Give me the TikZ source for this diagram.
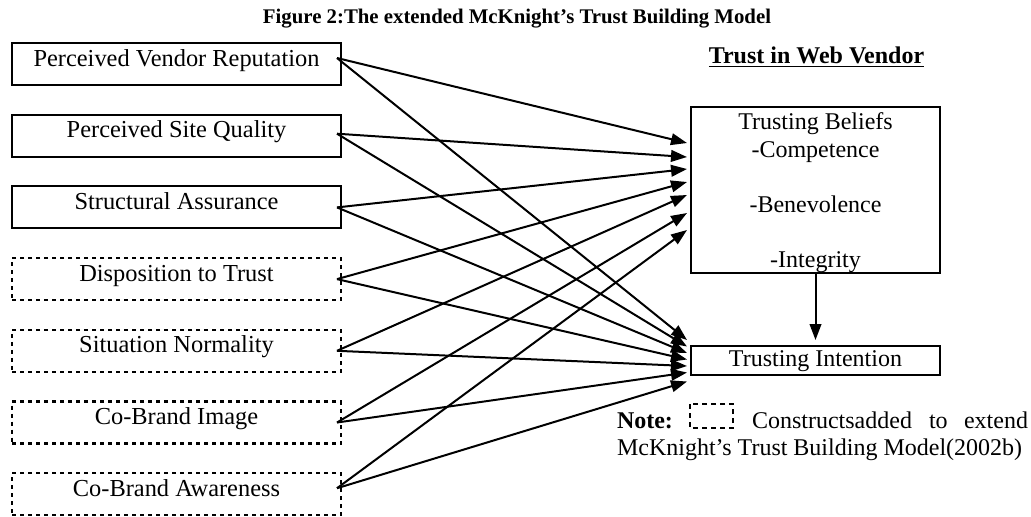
\documentclass[tikz,border=0pt]{standalone}
\usepackage{fontspec}
\setmainfont{Liberation Serif}
\usetikzlibrary{arrows.meta}
\begin{document}
\begin{tikzpicture}[x=0.5pt,y=-0.5pt,
  lbox/.style={draw, line width=1pt, anchor=north west, minimum width=164.5pt,
    inner sep=0pt, outer sep=0pt, text height=11.5pt, text depth=9.5pt,
    font=\fontsize{12.2}{13.75}\selectfont},
  dbox/.style={lbox, line width=1.1pt, dash pattern=on 2pt off 2pt},
  rbox/.style={draw, line width=1pt, anchor=north, minimum width=124.5pt,
    inner sep=0pt, outer sep=0pt, font=\fontsize{12}{13.75}\selectfont},
  arr/.style={line width=1pt, -{Triangle[length=8pt,width=5.8pt]}},
  txt/.style={inner sep=0pt, outer sep=0pt, font=\fontsize{12}{13.75}\selectfont}]
\useasboundingbox (0,0) rectangle (1031,516);

% title
\node[txt, font=\bfseries\fontsize{10.4}{12}\selectfont, anchor=base] (title) at (517,23.5)
  {Figure 2:The extended McKnight's Trust Building Model};
\node[txt, anchor=base] (tw) at (816.5,63) {\underline{\textbf{Trust in Web Vendor}}};

% left boxes
\node[lbox] (b1) at (12,43)    {Perceived Vendor Reputation};
\node[lbox] (b2) at (12,114.7) {Perceived Site Quality};
\node[lbox] (b3) at (12,186.4) {Structural Assurance};
\node[dbox] (b4) at (12,258.1) {Disposition to Trust};
\node[dbox] (b5) at (12,329.8) {Situation Normality};
\node[dbox] (b6) at (12,401.5) {Co-Brand Image};
\node[dbox] (b7) at (12,473.2) {Co-Brand Awareness};

% right boxes
\node[rbox, align=center, text height=80pt, text depth=3pt] (TB) at (815.5,107)
  {Trusting Beliefs\\-Competence\\[13.75pt]-Benevolence\\[13.75pt]-Integrity};
\node[rbox, text height=10.4pt, text depth=4.1pt] (TI) at (815.5,346) {Trusting Intention};

% start points
\coordinate (s1) at ([xshift=-2pt,yshift=3pt]b1.east);
\coordinate (s2) at ([xshift=-2pt,yshift=1pt]b2.east);
\coordinate (s3) at ([xshift=-2pt]b3.east);
\coordinate (s4) at ([xshift=-2pt]b4.east);
\coordinate (s5) at ([xshift=-2pt]b5.east);
\coordinate (s6) at ([xshift=-2pt]b6.east);
\coordinate (s7) at ([xshift=-2pt,yshift=3pt]b7.east);

% end points at Trusting Beliefs
\coordinate (t1) at ([xshift=-2pt,yshift=23.5pt]TB.west);
\coordinate (t2) at ([xshift=-2pt,yshift=16.5pt]TB.west);
\coordinate (t3) at ([xshift=-2pt,yshift=10.5pt]TB.west);
\coordinate (t4) at ([xshift=-2pt,yshift=4pt]TB.west);
\coordinate (t5) at ([xshift=-2pt,yshift=-2.5pt]TB.west);
\coordinate (t6) at ([xshift=-2pt,yshift=-11.5pt]TB.west);
\coordinate (t7) at ([xshift=-2pt,yshift=-20pt]TB.west);

% end points at Trusting Intention
\coordinate (u1) at ([xshift=-2pt,yshift=10.25pt]TI.west);
\coordinate (u2) at ([xshift=-2pt,yshift=7pt]TI.west);
\coordinate (u3) at ([xshift=-2pt,yshift=3.75pt]TI.west);
\coordinate (u4) at ([xshift=-2pt,yshift=0.5pt]TI.west);
\coordinate (u5) at ([xshift=-2pt,yshift=-2.75pt]TI.west);
\coordinate (u6) at ([xshift=-2pt,yshift=-6pt]TI.west);
\coordinate (u7) at ([xshift=-2pt,yshift=-10.5pt]TI.west);

\foreach \i in {1,...,7}{
  \draw[arr] (s\i) -- (t\i);
  \draw[arr] (s\i) -- (u\i);
}

\draw[arr, shorten >=3pt] (TB.south) -- (TI.north);

% note
\node[txt, font=\bfseries\fontsize{12}{13.75}\selectfont, anchor=base west] (note) at (617,428) {Note:};
\draw[line width=0.7pt, dash pattern=on 2.5pt off 2pt] (690,404) rectangle (733,428);
\node[txt, anchor=base west] (n1) at (752,428) {Constructsadded};
\node[txt, anchor=base west] (n2) at (929,428) {to};
\node[txt, anchor=base east] (n3) at (1028,428) {extend};
\node[txt, anchor=base west] (n4) at (617,455.5) {McKnight's Trust Building Model(2002b)};
\end{tikzpicture}
\end{document}
